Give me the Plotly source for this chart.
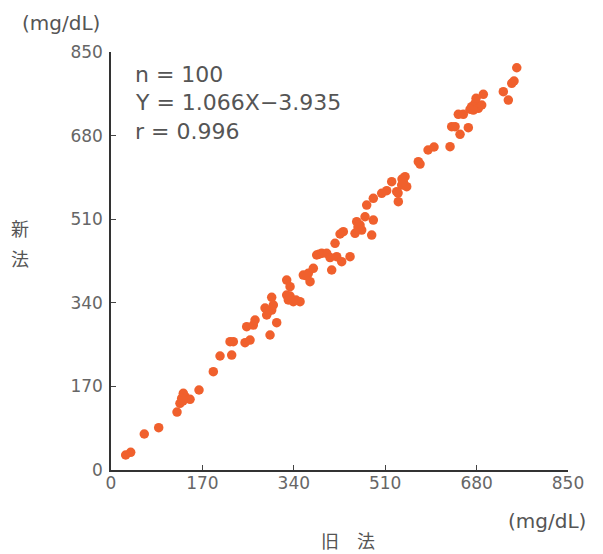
import plotly.graph_objects as go

# Data (旧法 vs 新法, mg/dL)
old_method = [27.3, 36.6, 61.9, 88.7, 122.8, 128.3, 134.5, 137.6, 147.0, 131.5,
              163.7, 190.3, 202.8, 224.5, 221.4, 227.5, 249.3, 252.4, 264.7, 267.9,
              295.8, 289.6, 298.9, 298.9, 308.2, 286.5, 301.9, 326.8, 333.0, 326.8,
              329.8, 339.1, 351.6, 357.7, 367.0, 376.3, 370.2, 364.0, 382.6, 391.9,
              401.2, 410.5, 419.8, 429.1, 444.6, 416.7, 432.1, 453.9, 466.3, 484.9,
              457.0, 463.2, 472.5, 487.9, 475.6, 487.9, 503.5, 512.8, 522.1, 531.4,
              534.4, 540.7, 546.9, 550.0, 543.7, 571.6, 574.8, 589.7, 600.8, 630.6,
              633.7, 639.9, 649.2, 664.6, 646.0, 655.3, 670.9, 677.1, 683.2, 689.5,
              673.9, 692.5, 729.7, 739.0, 745.4, 749.6, 754.7, 133.9, 344.1, 386.9,
              459.4, 533.9, 667.8, 407.4, 292.0, 258.6, 426.0, 541.3, 679.0, 333.0]
new_method = [30.5, 36.0, 73.2, 86.0, 117.9, 135.6, 156.0, 149.0, 143.8, 145.8,
              162.7, 199.9, 231.8, 233.8, 260.9, 260.9, 258.8, 291.4, 294.8, 305.0,
              274.5, 315.2, 325.3, 351.2, 299.5, 329.4, 335.5, 386.3, 372.7, 355.8,
              345.7, 342.2, 342.2, 396.5, 400.0, 410.1, 382.9, 394.5, 437.2, 440.6,
              440.6, 406.7, 433.7, 423.6, 433.7, 461.0, 484.6, 481.3, 488.0, 477.8,
              504.9, 498.2, 515.0, 508.3, 538.8, 552.5, 562.6, 567.9, 586.2, 565.9,
              545.6, 579.5, 596.4, 576.1, 586.2, 626.9, 622.2, 650.7, 656.8, 657.4,
              698.1, 698.1, 682.6, 696.0, 723.3, 723.3, 738.7, 745.6, 735.5, 742.2,
              732.0, 763.9, 769.2, 752.3, 786.3, 791.0, 818.0, 140.3, 345.7, 438.8,
              494.1, 563.2, 733.6, 431.9, 321.3, 264.3, 479.9, 591.7, 755.7, 353.8]

tick_vals = [0, 170, 340, 510, 680, 850]
tick_text = ["0", "170", "340", "510", "680", "850"]
stats_lines = ["n = 100", "Y = 1.066X\u22123.935", "r = 0.996"]

fig = go.Figure()
fig.add_trace(go.Scatter(
    x=old_method, y=new_method, mode="markers",
    marker=dict(size=9.5, color="#F0602D", line=dict(width=0)),
    showlegend=False, hoverinfo="x+y"))

axis_common = dict(
    range=[0, 850], tickvals=tick_vals, ticktext=tick_text,
    showgrid=False, zeroline=False, showline=True, linecolor="#333333",
    linewidth=1.5, ticks="inside", ticklen=5, tickcolor="#444444",
    tickfont=dict(family="DejaVu Sans", size=17, color="#666666"),
)
fig.update_xaxes(**axis_common, ticklabelstandoff=-3)
fig.update_yaxes(**axis_common, ticklabelstandoff=3)

ann_font = dict(family="DejaVu Sans", size=22, color="#555555")
ys = [0.945, 0.878, 0.811]
for txt, yy in zip(stats_lines, ys):
    fig.add_annotation(text=txt, x=0.048, y=yy, xref="paper", yref="paper",
                       xanchor="left", yanchor="middle", showarrow=False, font=ann_font)

unit_font = dict(family="DejaVu Sans", size=20, color="#555555")
fig.add_annotation(text="(mg/dL)", x=(61 - 111) / 457, y=(470 - 23) / 418, xref="paper", yref="paper",
                   xanchor="center", yanchor="middle", showarrow=False, font=unit_font)
fig.add_annotation(text="(mg/dL)", x=(547 - 111) / 457, y=-0.122, xref="paper", yref="paper",
                   xanchor="center", yanchor="middle", showarrow=False, font=unit_font)

jp_font = dict(family="Noto Sans CJK JP", size=18, color="#555555")
fig.add_annotation(text="旧　法", x=0.519, y=-0.167, xref="paper", yref="paper",
                   xanchor="center", yanchor="middle", showarrow=False, font=jp_font)
fig.add_annotation(text="新", x=-0.199, y=(470 - 228) / 418, xref="paper", yref="paper",
                   xanchor="center", yanchor="middle", showarrow=False, font=jp_font)
fig.add_annotation(text="法", x=-0.199, y=(470 - 258) / 418, xref="paper", yref="paper",
                   xanchor="center", yanchor="middle", showarrow=False, font=jp_font)

# page body has an 8px default margin; compensate so the plot lands where it should
fig.update_layout(
    width=595, height=546,
    margin=dict(l=103, r=35, t=44, b=84),
    paper_bgcolor="white", plot_bgcolor="white",
)

fig.write_html("out.html")
